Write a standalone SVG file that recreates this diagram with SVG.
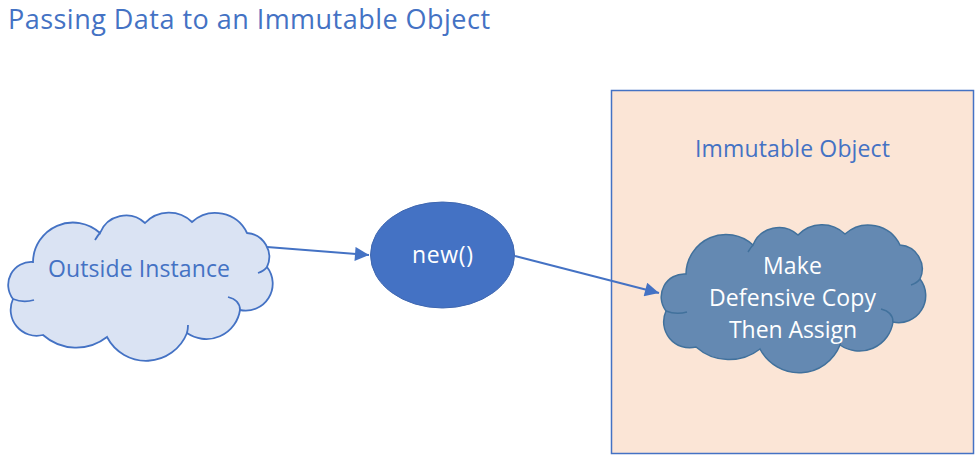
<svg xmlns="http://www.w3.org/2000/svg" width="976" height="458" viewBox="0 0 976 458">
<style>
text{font-family:"Open Sans","Liberation Sans",sans-serif;}
.title{font-size:27px;fill:#4472C4;}
.lbl{font-size:23px;text-anchor:middle;}
.conn{stroke:#4472C4;stroke-width:2;fill:none;}
.curl{fill:none;}
</style>
<defs>
<path id="cloud" d="M26 49 A40 40 0 0 1 93 20 A28 28 0 0 1 138 10 A33 33 0 0 1 185 9 A35 35 0 0 1 240 20 A24 24 0 0 1 260 54 A27 27 0 0 1 233 97 A34 34 0 0 1 180 120 A44 44 0 0 1 100 124 A50 50 0 0 1 36 122 A26 26 0 0 1 6 86 A23 23 0 0 1 26 49 Z"/>
<path id="curls" d="M6 86 Q16 90 27 87 M260 54 Q257 58 251 60 M233 97 Q233 87 221 84 M180 120 Q181 116 181 112 M93 20 Q91 22 88 27"/>
<marker id="arrow" viewBox="0 0 10 10" refX="10" refY="5" markerWidth="8.5" markerHeight="7" markerUnits="strokeWidth" orient="auto">
<path d="M0 0 L10 5 L0 10 Z" fill="#4472C4"/>
</marker>
</defs>
<rect width="976" height="458" fill="#FFFFFF"/>
<text class="title" x="8" y="29" textLength="482" lengthAdjust="spacing">Passing Data to an Immutable Object</text>
<g id="immutable-object">
<rect x="611.5" y="90.5" width="362" height="363" fill="#FBE5D6" stroke="#4472C4" stroke-width="1.5"/>
<text class="lbl" x="792.5" y="157" fill="#4472C4" textLength="195" lengthAdjust="spacing">Immutable Object</text>
</g>
<g id="outside-instance">
<g transform="translate(7,213)">
<use href="#cloud" fill="#DAE3F3" stroke="#4472C4" stroke-width="1.8"/>
<use href="#curls" class="curl" stroke="#4472C4" stroke-width="1.8"/>
</g>
<text class="lbl" x="139" y="277" fill="#4472C4" textLength="182" lengthAdjust="spacing">Outside Instance</text>
</g>
<g id="new">
<ellipse cx="442.5" cy="255" rx="72" ry="53" fill="#4472C4" stroke="#3F67B0" stroke-width="1"/>
<text class="lbl" x="442.5" y="263" fill="#FFFFFF" textLength="61" lengthAdjust="spacing">new()</text>
</g>
<g id="defensive-copy">
<g transform="translate(660,225)">
<use href="#cloud" fill="#6489B2" stroke="#41719C" stroke-width="1.5"/>
<use href="#curls" class="curl" stroke="#41719C" stroke-width="1.5"/>
</g>
<text class="lbl" x="792.5" y="274" fill="#FFFFFF" textLength="59" lengthAdjust="spacing">Make</text>
<text class="lbl" x="792.5" y="306" fill="#FFFFFF" textLength="167" lengthAdjust="spacing">Defensive Copy</text>
<text class="lbl" x="793" y="338" fill="#FFFFFF" textLength="128" lengthAdjust="spacing">Then Assign</text>
</g>
<g id="connectors">
<line class="conn" x1="267" y1="247" x2="369" y2="255" marker-end="url(#arrow)"/>
<line class="conn" x1="515" y1="256" x2="659" y2="293" marker-end="url(#arrow)"/>
</g>
</svg>
